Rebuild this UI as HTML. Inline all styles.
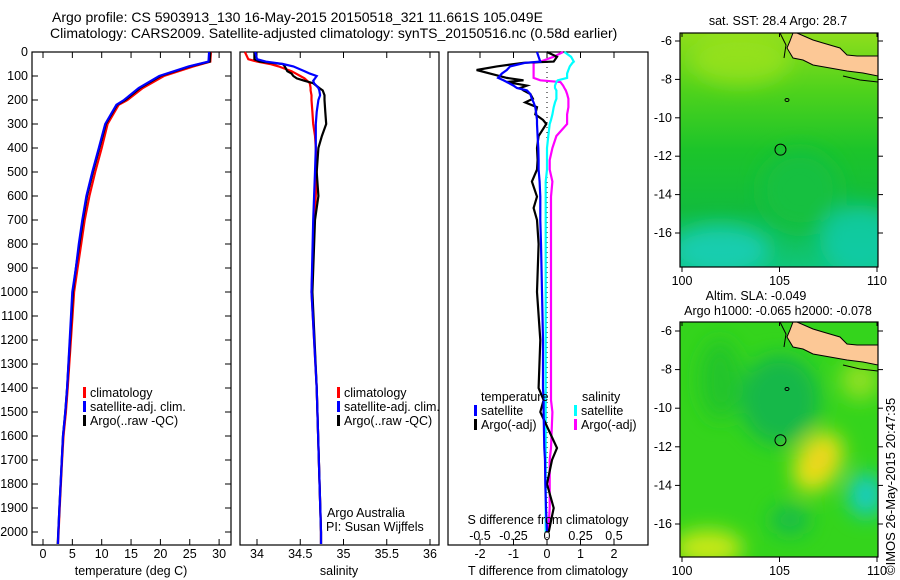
<!DOCTYPE html>
<html><head><meta charset="utf-8">
<style>
html,body{margin:0;padding:0;background:#fff;}
svg{display:block;font-family:"Liberation Sans",sans-serif;}
text{font-size:12.5px;fill:#000;}
</style></head>
<body>
<svg id="chart" width="900" height="580" viewBox="0 0 900 580" xmlns="http://www.w3.org/2000/svg">
<defs>
<filter id="blur1" x="-50%" y="-50%" width="200%" height="200%"><feGaussianBlur stdDeviation="10"/></filter>
<clipPath id="clipm1"><rect x="680" y="33" width="198" height="234"/></clipPath>
<clipPath id="clipm2"><rect x="680" y="322" width="198" height="235"/></clipPath>
<linearGradient id="g1" x1="0" y1="0" x2="0" y2="1">
<stop offset="0" stop-color="#8ede1c"/><stop offset="0.25" stop-color="#4ed21c"/><stop offset="0.5" stop-color="#1cc42a"/><stop offset="0.75" stop-color="#12bc3c"/><stop offset="1" stop-color="#10c67a"/>
</linearGradient>
</defs>
<g>
<text x="52" y="22" style="font-size:14px">Argo profile: CS 5903913_130 16-May-2015 20150518_321 11.661S 105.049E</text>
<text x="50" y="38" style="font-size:14px">Climatology: CARS2009. Satellite-adjusted climatology: synTS_20150516.nc (0.58d earlier)</text>
</g>
<g id="panels"></g>
<g id="maps"></g>
<text transform="translate(895,575) rotate(-90)" style="font-size:13px">©IMOS 26-May-2015 20:47:35</text>
</svg>
<script>
// ---------- data ----------
const depthT = [0, 40, 60, 100, 150, 200, 220, 300, 400, 500, 600, 700, 800, 900, 1000, 1400, 1500, 1600, 1700, 1800, 1900, 2000, 2050];
const tempArgo = [28.5, 28.4, 25, 20, 16.5, 14, 12.6, 10.7, 9.6, 8.5, 7.5, 6.8, 6.2, 5.6, 5.1, 4.1, 3.8, 3.4, 3.2, 3.0, 2.8, 2.6, 2.5];
const tempClim = [28.6, 28.5, 25.6, 20.6, 17.0, 14.4, 12.9, 11.0, 10.0, 8.9, 7.9, 7.1, 6.5, 5.9, 5.3, 4.2, 3.9, 3.5, 3.25, 3.05, 2.85, 2.65, 2.55];
const tempSat = [28.3, 28.2, 24.8, 19.8, 16.3, 13.8, 12.5, 10.6, 9.5, 8.4, 7.4, 6.7, 6.1, 5.6, 5.0, 4.1, 3.8, 3.4, 3.2, 3.0, 2.8, 2.6, 2.55];

const depthS = [0, 30, 40, 50, 60, 80, 90, 100, 110, 120, 130, 150, 160, 180, 200, 250, 300, 350, 400, 500, 600, 700, 1000, 1400, 2000, 2050];
const salArgo = [33.97, 33.97, 34.03, 34.3, 34.32, 34.35, 34.4, 34.42, 34.46, 34.55, 34.65, 34.72, 34.76, 34.78, 34.78, 34.79, 34.8, 34.75, 34.71, 34.69, 34.71, 34.67, 34.64, 34.69, 34.74, 34.74];
const salClim = [33.86, 33.9, 34.0, 34.15, 34.25, 34.4, 34.45, 34.5, 34.55, 34.58, 34.61, 34.62, 34.62, 34.63, 34.63, 34.64, 34.65, 34.67, 34.68, 34.69, 34.68, 34.66, 34.63, 34.69, 34.74, 34.74];
const salSat = [33.98, 34.0, 34.1, 34.3, 34.42, 34.55, 34.61, 34.69, 34.67, 34.65, 34.66, 34.71, 34.72, 34.73, 34.71, 34.69, 34.68, 34.68, 34.68, 34.67, 34.66, 34.65, 34.63, 34.69, 34.74, 34.74];

const depthD = [0, 20, 40, 45, 60, 75, 90, 108, 118, 125, 140, 150, 160, 175, 195, 210, 230, 260, 283, 300, 350, 400, 450, 490, 540, 603, 650, 700, 800, 1000, 1200, 1400, 1450, 1500, 1650, 1700, 1800, 1900, 2000];
const tDiffSat = [-0.3, -0.25, -0.2, -0.65, -1.1, -1.2, -1.35, -1.46, -1.3, -1.2, -1.0, -0.9, -0.6, -0.5, -0.45, -0.4, -0.35, -0.32, -0.3, -0.3, -0.28, -0.26, -0.25, -0.25, -0.22, -0.2, -0.2, -0.2, -0.18, -0.15, -0.12, -0.12, -0.1, -0.1, -0.08, -0.06, -0.05, -0.03, 0];
const tDiffArgo = [0, 0.3, 0.2, -0.7, -1.5, -2.1, -1.7, -1.2, -0.7, -1.2, -0.6, -0.8, -0.7, -0.5, -0.42, -0.65, -0.3, -0.35, -0.12, -0.02, -0.25, -0.3, -0.28, -0.3, -0.45, -0.3, -0.4, -0.3, -0.25, -0.3, -0.2, -0.25, -0.1, -0.2, 0.3, 0.15, 0.0, 0.2, 0.05];
const sDiffSat = [0.13, 0.18, 0.2, 0.19, 0.17, 0.16, 0.15, 0.15, 0.08, 0.07, 0.06, 0.06, 0.07, 0.07, 0.07, 0.06, 0.05, 0.04, 0.03, 0.02, 0.01, 0.0, 0.0, 0.0, -0.01, -0.01, -0.01, -0.01, -0.01, -0.01, -0.01, -0.01, -0.01, -0.01, -0.01, -0.01, -0.01, -0.01, -0.01];
const sDiffArgo = [0.12, 0.05, -0.05, -0.1, -0.1, -0.1, -0.1, -0.1, -0.05, 0.1, 0.12, 0.13, 0.14, 0.15, 0.16, 0.16, 0.16, 0.15, 0.15, 0.15, 0.07, 0.04, 0.02, 0.02, 0.04, 0.03, 0.03, 0.03, 0.03, 0.03, 0.03, 0.03, 0.03, 0.04, 0.03, 0.02, 0.02, 0.02, 0.01];

const depthTicks = [0,100,200,300,400,500,600,700,800,900,1000,1100,1200,1300,1400,1500,1600,1700,1800,1900,2000];
const tempTicks = [0,5,10,15,20,25,30];
const salTicks = [34,34.5,35,35.5,36];
const tDiffTicks = [-2,-1,0,1,2];
const sDiffTicks = [-0.5,-0.25,0,0.25,0.5];
const lonTicks = [100,105,110];
const latTicks = [-6,-8,-10,-12,-14,-16];

// ---------- helpers ----------
const NS = "http://www.w3.org/2000/svg";
function mk(tag, attrs, parent){ const e=document.createElementNS(NS,tag); for(const k in attrs) e.setAttribute(k,attrs[k]); parent.appendChild(e); return e; }
function txt(s, x, y, anchor, parent){ const t=mk('text',{x:x,y:y,'text-anchor':anchor||'start'},parent); t.textContent=s; return t; }

const yDepth = d => 52 + 0.24*d;
const xTemp = v => 43 + 5.87*v;
const xSal = v => 257 + 86.5*(v-34);
const xTD = v => 547 + 33.5*v;
const xSD = v => 547 + 134*v;
const xLon = v => 682 + 19.5*(v-100);
const yLat1 = v => 41 + 19.2*(-6 - v);
const yLat2 = v => 331 + 19.3*(-6 - v);

const panels = document.getElementById('panels');
const P = [{x:32,w:199},{x:240,w:199},{x:448,w:200}];
const PTOP=52, PBOT=545;

function stepPath(depths, vals, xf){
  let d='';
  for(let i=0;i<depths.length;i++){
    const x=xf(vals[i]).toFixed(1), y=yDepth(depths[i]).toFixed(1);
    d += (i? 'L':'M') + x + ' ' + y + ' ';
  }
  return d;
}
function series(g, depths, vals, xf, color, name, w){
  const p = mk('path',{d:stepPath(depths,vals,xf),fill:'none',stroke:color,'stroke-width':w||2.2,'stroke-linejoin':'miter'},g);
  
  
}

P.forEach((p,i)=>{
  const g = mk('g',{},panels);
  
  
  p.g = g;
  mk('rect',{x:p.x,y:PTOP,width:p.w,height:PBOT-PTOP,fill:'#fff',stroke:'#000','stroke-width':1.2},g);
});

const dax = mk('g',{},panels);


depthTicks.forEach(d=>{
  txt(String(d), 28, yDepth(d)+4, 'end', dax);
  mk('line',{x1:32,x2:38,y1:yDepth(d),y2:yDepth(d),stroke:'#000'},dax);
  mk('line',{x1:225,x2:231,y1:yDepth(d),y2:yDepth(d),stroke:'#000'},dax);
});

function xAxis(g, ticks, xf, fmt, labelY, withTop){
  ticks.forEach(t=>{
    const x=xf(t);
    mk('line',{x1:x,x2:x,y1:PBOT,y2:PBOT-6,stroke:'#000'},g);
    if(withTop) mk('line',{x1:x,x2:x,y1:PTOP,y2:PTOP+6,stroke:'#000'},g);
    txt(fmt(t), x, labelY, 'middle', g);
  });
}
{
  const g=P[0].g;
  xAxis(g,tempTicks,xTemp,String,558,true);
  txt('temperature (deg C)',131,575,'middle',g);
  series(g,depthT,tempClim,xTemp,'#ff0000','climatology-temp-line');
  series(g,depthT,tempArgo,xTemp,'#000000','argo-temp-line');
  series(g,depthT,tempSat,xTemp,'#0000ff','satellite-temp-line');
  const leg=[['#ff0000','climatology'],['#0000ff','satellite-adj. clim.'],['#000000','Argo(..raw -QC)']];
  leg.forEach((l,i)=>{ const y=397+14*i;
    const r=mk('rect',{x:83,y:y-10,width:3,height:11,fill:l[0]},g);
     
    txt(l[1],90,y,'start',g);});
}
{
  const g=P[1].g;
  xAxis(g,salTicks,xSal,String,558,true);
  txt('salinity',339,575,'middle',g);
  series(g,depthS,salClim,xSal,'#ff0000','climatology-salinity-line');
  series(g,depthS,salArgo,xSal,'#000000','argo-salinity-line');
  series(g,depthS,salSat,xSal,'#0000ff','satellite-salinity-line');
  const leg=[['#ff0000','climatology'],['#0000ff','satellite-adj. clim.'],['#000000','Argo(..raw -QC)']];
  leg.forEach((l,i)=>{ const y=397+14*i;
    const r=mk('rect',{x:337,y:y-10,width:3,height:11,fill:l[0]},g);
     
    txt(l[1],344,y,'start',g);});
  txt('Argo Australia',327,517,'start',g);
  txt('PI: Susan Wijffels',326,531,'start',g);
}
{
  const g=P[2].g;
  mk('line',{x1:547,x2:547,y1:PTOP,y2:PBOT,stroke:'#000','stroke-dasharray':'1 4','stroke-width':1},g);
  series(g,depthD,sDiffArgo,xSD,'#ff00ff','argo-salinity-diff-line');
  series(g,depthD,sDiffSat,xSD,'#00ffff','satellite-salinity-diff-line');
  series(g,depthD,tDiffArgo,xTD,'#000000','argo-temp-diff-line');
  series(g,depthD,tDiffSat,xTD,'#0000ff','satellite-temp-diff-line');
  tDiffTicks.forEach(t=>{const x=xTD(t); mk('line',{x1:x,x2:x,y1:PBOT,y2:PBOT-6,stroke:'#000'},g); mk('line',{x1:x,x2:x,y1:PTOP,y2:PTOP+6,stroke:'#000'},g); txt(String(t),x,558,'middle',g);});
  sDiffTicks.forEach(t=>{txt(String(t),xSD(t),540,'middle',g);});
  txt('S difference from climatology',548,524,'middle',g);
  txt('T difference from climatology',548,575,'middle',g);
  txt('temperature',481,401,'start',g);
  txt('salinity',582,401,'start',g);
  const leg=[[474,415,'#0000ff','satellite'],[474,429,'#000000','Argo(-adj)'],[574,415,'#00ffff','satellite'],[574,429,'#ff00ff','Argo(-adj)']];
  leg.forEach(l=>{const r=mk('rect',{x:l[0],y:l[1]-10,width:3,height:11,fill:l[2]},g);
     
    txt(l[3],l[0]+7,l[1],'start',g);});
}

// ---------- maps ----------
const maps=document.getElementById('maps');
const landPts=[[797,33],[813,40],[823,43],[840,48],[847,55],[857,56],[878,56],[878,76],[863,73],[847,71],[830,68],[813,65],[803,60],[793,58],[787,48],[790,41],[793,33]];
function land(g,dy){
  const pts=landPts.map(p=>p[0]+','+(p[1]+dy)).join(' ');
  const l=mk('polygon',{points:pts,fill:'#fcc896',stroke:'#000','stroke-width':1},g);
   
  mk('polyline',{points:`780,${33+dy} 786,${45+dy} 784,${58+dy}`,fill:'none',stroke:'#000'},g);
  mk('polyline',{points:`843,${76+dy} 860,${80+dy} 878,${82+dy}`,fill:'none',stroke:'#000'},g);
  mk('ellipse',{cx:787,cy:100+dy,rx:2,ry:1.5,fill:'none',stroke:'#000'},g);
}
function mapAxes(g,y0,y1,yf){
  mk('rect',{x:680,y:y0,width:198,height:y1-y0,fill:'none',stroke:'#000','stroke-width':1.2},g);
  lonTicks.forEach(v=>{const x=xLon(v); mk('line',{x1:x,x2:x,y1:y1,y2:y1+5,stroke:'#000'},g); mk('line',{x1:x,x2:x,y1:y0,y2:y0+4,stroke:'#000'},g); txt(String(v),x,y1+18,'middle',g);});
  latTicks.forEach(v=>{const y=yf(v); mk('line',{x1:675,x2:680,y1:y,y2:y,stroke:'#000'},g); mk('line',{x1:878,x2:883,y1:y,y2:y,stroke:'#000'},g); txt(String(v),672,y+4,'end',g);});
}
{
  const g=mk('g',{},maps);
   
  const c=mk('g',{'clip-path':'url(#clipm1)'},g);
  mk('rect',{x:680,y:33,width:198,height:234,fill:'url(#g1)'},c);
  const b=mk('g',{filter:'url(#blur1)'},c);
  mk('ellipse',{cx:740,cy:60,rx:50,ry:25,fill:'#a0e41a','fill-opacity':0.7},b);
  mk('ellipse',{cx:720,cy:250,rx:50,ry:25,fill:'#18cfc0','fill-opacity':0.8},b);
  mk('ellipse',{cx:860,cy:240,rx:40,ry:35,fill:'#14ccb0','fill-opacity':0.8},b);
  mk('ellipse',{cx:800,cy:190,rx:40,ry:40,fill:'#14c040'},b);
  land(c,0);
  mk('circle',{cx:xLon(105.05),cy:yLat1(-11.66),r:5.5,fill:'none',stroke:'#000'},g);
  mapAxes(g,33,267,yLat1);
  txt('sat. SST: 28.4 Argo: 28.7',778,25,'middle',g);
}
{
  const g=mk('g',{},maps);
   
  const c=mk('g',{'clip-path':'url(#clipm2)'},g);
  mk('rect',{x:680,y:322,width:198,height:235,fill:'#34d41c'},c);
  const b=mk('g',{filter:'url(#blur1)'},c);
  mk('ellipse',{cx:780,cy:400,rx:40,ry:45,fill:'#12b848'},b);
  mk('ellipse',{cx:720,cy:380,rx:20,ry:40,fill:'#22c42c'},b);
  mk('ellipse',{cx:818,cy:462,rx:22,ry:32,fill:'#e8e018',transform:'rotate(30 818 462)'},b);
  mk('ellipse',{cx:820,cy:460,rx:8,ry:12,fill:'#f0c820',transform:'rotate(30 820 460)'},b);
  mk('ellipse',{cx:866,cy:495,rx:18,ry:22,fill:'#18ccc0'},b);
  mk('ellipse',{cx:708,cy:548,rx:35,ry:18,fill:'#c8e818'},b);
  mk('ellipse',{cx:860,cy:380,rx:20,ry:20,fill:'#8ee020'},b);
  mk('ellipse',{cx:790,cy:520,rx:20,ry:15,fill:'#18bc48'},b);
  land(c,289);
  mk('circle',{cx:xLon(105.05),cy:yLat2(-11.66),r:5.5,fill:'none',stroke:'#000'},g);
  mapAxes(g,322,557,yLat2);
  txt('Altim. SLA: -0.049',756,300,'middle',g);
  txt('Argo h1000: -0.065 h2000: -0.078',778,315,'middle',g);
}
</script>
</body></html>
